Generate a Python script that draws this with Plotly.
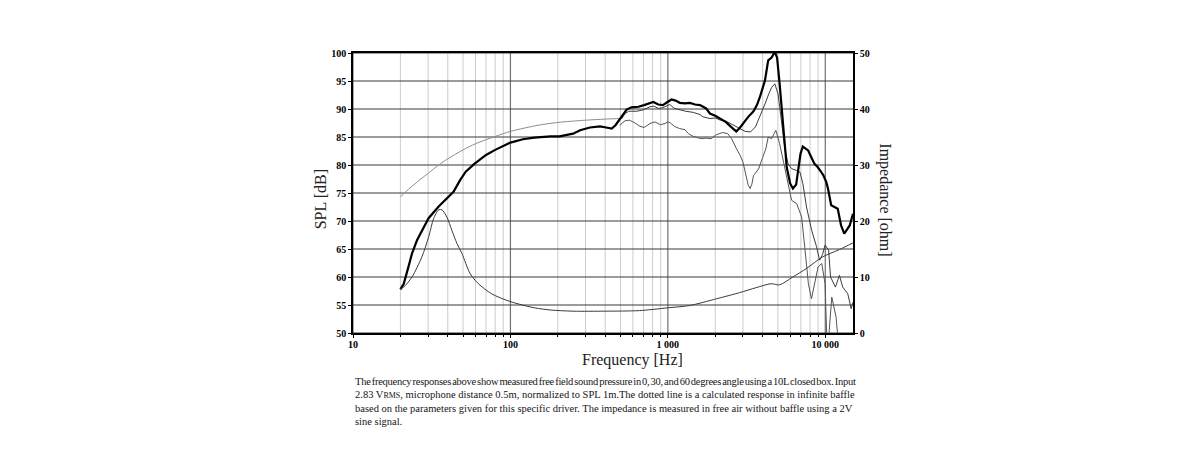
import math
import plotly.graph_objects as go

# ---------------- data ----------------
# calculated infinite-baffle response (dB)
calc_freq = [20, 23, 26.7, 30, 35, 40, 50, 60, 80, 100, 150, 200, 300, 400, 510]
calc_spl = [74.3, 75.9, 77.4, 78.5, 80.0, 81.1, 82.7, 83.8, 85.1, 86.0, 87.1, 87.6, 88.0, 88.2, 88.3]

# 0 degrees (thick black)
deg0_freq = [20, 20.4, 21, 22.5, 23.7, 25.5, 27.4, 30.2, 35, 38.5, 43.5, 47.9, 52, 59, 70, 80,
             100, 120, 142, 180, 205, 250, 277, 320, 371, 405, 440, 465, 510, 547, 587, 650,
             706, 770, 808, 870, 930, 995, 1055, 1120, 1190, 1285, 1380, 1490, 1600, 1750,
             1850, 2000, 2160, 2330, 2520, 2720, 2860, 3000, 3240, 3500, 3680, 3840, 4140,
             4340, 4560, 4780, 4940, 5130, 5390, 5690, 5980, 6230, 6530, 6960, 7200, 7500,
             7780, 8540, 8970, 9424, 9700, 10140, 10400, 10900, 12000, 12600, 13200, 14300,
             15000]
deg0_spl = [57.8, 58.2, 58.8, 61.8, 64.2, 66.55, 68.3, 70.5, 72.6, 73.7, 75.2, 77.3, 78.8,
            80.2, 81.8, 82.7, 84.0, 84.6, 84.9, 85.1, 85.1, 85.6, 86.2, 86.7, 86.9, 86.7,
            86.5, 87.1, 88.6, 89.9, 90.3, 90.4, 90.7, 91.1, 91.25, 90.8, 90.7, 91.25, 91.7,
            91.5, 91.1, 91.0, 91.1, 90.8, 90.7, 90.1, 89.2, 88.8, 88.3, 87.7, 86.8, 86.0,
            86.6, 87.4, 88.6, 89.6, 90.7, 92.1, 95.1, 98.7, 99.2, 100.2, 99.2, 94.5, 86.8,
            79.6, 76.7, 75.8, 76.5, 82.0, 83.3, 83.0, 82.6, 80.2, 79.6, 78.75, 78.2, 77.0,
            75.8, 72.8, 72.2, 69.2, 67.75, 69.2, 71.3]

# 30 degrees (thin)
deg30_freq = [510, 535, 565, 635, 700, 770, 815, 870, 930, 1030, 1100, 1190, 1300, 1450, 1600,
              1670, 1850, 2000, 2160, 2350, 2600, 2870, 3100, 3350, 3600, 3840, 4140, 4350,
              4550, 4780, 5010, 5260, 5520, 5800, 6110, 6530, 6900, 7200, 7600, 8200, 8800,
              9200, 9600, 9970, 10500, 10800, 11600, 12300, 12900, 13900, 14600, 15000]
deg30_spl = [88.3, 89.2, 89.6, 89.6, 89.85, 90.4, 90.5, 90.1, 90.25, 90.8, 90.1, 89.8, 89.6,
             89.4, 89.0, 88.6, 88.3, 88.4, 88.0, 87.8, 87.2, 86.5, 86.0, 85.9, 86.8, 88.6,
             90.9, 92.5, 93.8, 94.5, 92.7, 88.0, 83.2, 80.2, 79.35, 79.05, 78.75, 76.7, 72.5,
             68.3, 65.4, 63.0, 64.0, 65.7, 64.8, 60.0, 58.2, 60.3, 58.2, 57.0, 54.35, 55.5]

# 60 degrees (thin, lighter)
deg60_freq = [495, 535, 570, 610, 665, 706, 770, 828, 895, 960, 995, 1040, 1100, 1190, 1285,
              1350, 1450, 1550, 1630, 1750, 1880, 2030, 2230, 2400, 2540, 2730, 2880, 3000,
              3130, 3240, 3330, 3420, 3500, 3770, 4010, 4200, 4340, 4560, 4850, 5130, 5520,
              5800, 6110, 6580, 7080, 7440, 7810, 8170, 8570, 9000, 9500, 9970, 10200, 10400,
              10600, 11000, 11700, 12000, 12500, 15000]
deg60_spl = [87.1, 87.9, 88.0, 87.6, 86.9, 86.7, 87.4, 87.7, 87.2, 87.4, 87.7, 87.5, 86.9,
             86.5, 86.3, 85.6, 85.1, 84.9, 84.7, 84.8, 84.7, 85.4, 85.8, 85.6, 84.7, 82.9,
             81.7, 80.5, 78.1, 76.4, 75.8, 76.6, 78.1, 79.3, 81.4, 83.0, 85.0, 84.7, 86.2,
             83.8, 79.6, 76.7, 73.7, 73.1, 70.7, 64.8, 58.8, 56.1, 58.8, 61.8, 62.4, 58.8,
             50.0, 44.0, 50.5, 56.4, 52.9, 50.0, 44.0, 44.0]

# impedance (ohm, right axis)
imp_freq = [20, 21, 23.7, 27.4, 30.2, 32.5, 35, 36.7, 39.5, 42.5, 45.7, 49.2, 55.5, 62.6, 76,
            100, 142, 181, 250, 400, 660, 1000, 1370, 2030, 2850, 3640, 4530, 5120, 6220,
            7570, 9640, 12300, 15000]
imp_ohm = [7.9, 8.2, 10.0, 13.6, 17.1, 20.4, 22.0, 22.0, 20.7, 18.3, 16.0, 14.2, 10.6, 8.8,
           7.0, 5.6, 4.5, 4.1, 3.9, 3.9, 4.0, 4.5, 4.9, 6.1, 7.2, 8.1, 8.8, 8.6, 10.0, 11.5,
           13.6, 14.9, 16.1]

# axes / ticks
f_min, f_max = 10, 15000
x_ticks = [10, 100, 1000, 10000]
x_ticktext = ["10", "100", "1 000", "10 000"]
spl_ticks = [50, 55, 60, 65, 70, 75, 80, 85, 90, 95, 100]
imp_ticks = [0, 10, 20, 30, 40, 50]
minor_mult = [2, 3, 4, 5, 6, 7, 8, 9]

caption_lines = [
    "<span style='letter-spacing:-0.26px;word-spacing:-1.2px'>The frequency responses above show measured free field sound pressure in 0, 30, and 60 degrees angle using a 10L closed box. Input</span>",
    "2.83 V<span style='font-size:8px'>RMS</span>, microphone distance 0.5m, normalized to SPL 1m.The dotted line is a calculated response in infinite baffle",
    "based on the parameters given for this specific driver. The impedance is measured in free air without baffle using a 2V",
    "sine signal.",
]

# ---------------- figure ----------------
fig = go.Figure()

def grid_trace(xs, ys, color, width):
    fig.add_trace(go.Scatter(x=xs, y=ys, mode="lines", line=dict(color=color, width=width),
                             hoverinfo="skip", showlegend=False))

minor_vals = [m * d for d in x_ticks[:-1] for m in minor_mult]
# minor vertical grid
mx, my = [], []
for v in minor_vals:
    mx += [v, v, None]
    my += [spl_ticks[0], spl_ticks[-1], None]
grid_trace(mx, my, "#cccccc", 1)
# decade vertical grid
dx, dy = [], []
for v in x_ticks:
    dx += [v, v, None]
    dy += [spl_ticks[0], spl_ticks[-1], None]
grid_trace(dx, dy, "#707070", 1.2)
# horizontal grid
hx, hy = [], []
for v in spl_ticks:
    hx += [f_min, f_max, None]
    hy += [v, v, None]
grid_trace(hx, hy, "#383838", 1)

# curves
fig.add_trace(go.Scatter(x=imp_freq, y=imp_ohm, yaxis="y2", mode="lines",
                         line=dict(color="#3a3a3a", width=1, shape="spline", smoothing=0.8),
                         hoverinfo="skip", showlegend=False))
fig.add_trace(go.Scatter(x=calc_freq, y=calc_spl, mode="lines",
                         line=dict(color="#8c8c8c", width=1, shape="spline", smoothing=0.8),
                         hoverinfo="skip", showlegend=False))
fig.add_trace(go.Scatter(x=deg60_freq, y=deg60_spl, mode="lines",
                         line=dict(color="#555555", width=1),
                         hoverinfo="skip", showlegend=False))
fig.add_trace(go.Scatter(x=deg30_freq, y=deg30_spl, mode="lines",
                         line=dict(color="#3c3c3c", width=1),
                         hoverinfo="skip", showlegend=False))
fig.add_trace(go.Scatter(x=deg0_freq, y=deg0_spl, mode="lines",
                         line=dict(color="#000000", width=2.2),
                         hoverinfo="skip", showlegend=False))

tickfont = dict(family="Liberation Serif", size=10, color="#000", weight="bold")

fig.update_layout(
    width=1200, height=450,
    margin=dict(l=353, r=347, t=53, b=117),
    paper_bgcolor="white", plot_bgcolor="white",
    showlegend=False,
    xaxis=dict(type="log", range=[math.log10(f_min), math.log10(f_max)],
               tickmode="array", tickvals=x_ticks, ticktext=x_ticktext,
               ticks="outside", ticklen=3, tickcolor="#000", tickwidth=1,
               ticklabelstandoff=-2,
               minor=dict(tickmode="array", tickvals=minor_vals, ticks="outside",
                          ticklen=2, tickcolor="#000", tickwidth=1, showgrid=False),
               showgrid=False, zeroline=False, showline=True, mirror=True,
               linecolor="#000", linewidth=1.5, tickfont=tickfont),
    yaxis=dict(range=[spl_ticks[0], spl_ticks[-1]], tickmode="array", tickvals=spl_ticks,
               ticks="outside", ticklen=3, tickcolor="#000", tickwidth=1,
               showgrid=False, zeroline=False, showline=True, linecolor="#000",
               linewidth=1.5, tickfont=tickfont),
    yaxis2=dict(range=[imp_ticks[0], imp_ticks[-1]], overlaying="y", side="right",
                tickmode="array", tickvals=imp_ticks,
                ticks="outside", ticklen=3, tickcolor="#000", tickwidth=1,
                showgrid=False, zeroline=False, showline=True, linecolor="#000",
                linewidth=1.5, tickfont=tickfont),
)

title_font = dict(family="Liberation Serif", size=16, color="#222")
fig.add_annotation(text="SPL [dB]", xref="paper", yref="paper", x=-0.0633, y=0.4786,
                   textangle=-90, showarrow=False, font=title_font,
                   xanchor="center", yanchor="middle")
fig.add_annotation(text="Frequency [Hz]", xref="paper", yref="paper", x=0.558, y=-0.0975,
                   showarrow=False, font=title_font, xanchor="center", yanchor="middle")
fig.add_annotation(text="Impedance [ohm]", xref="paper", yref="paper", x=1.0633, y=0.475,
                   textangle=90, showarrow=False, font=title_font,
                   xanchor="center", yanchor="middle")

cap_font = dict(family="Liberation Serif", size=10.5, color="#151515")
cap_y_px = [381, 394.5, 408, 421.5]
for line, ypx in zip(caption_lines, cap_y_px):
    fig.add_annotation(text=line, xref="paper", yref="paper", x=0.0, y=(332.7 - ypx) / 280,
                       showarrow=False, font=cap_font, xanchor="left", yanchor="middle",
                       align="left")

fig.write_html("out.html")
